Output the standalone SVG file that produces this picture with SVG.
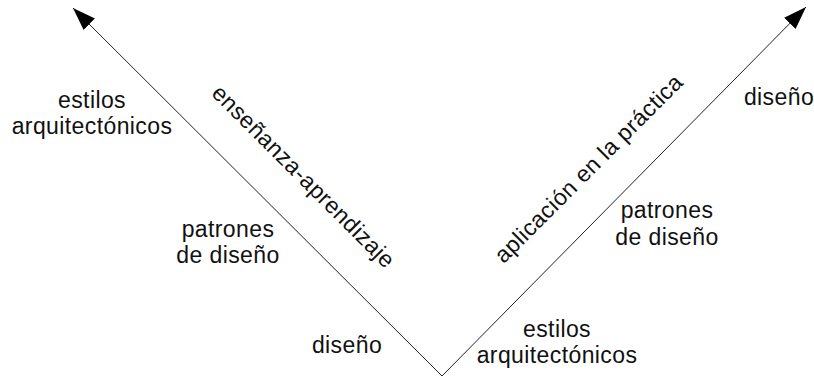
<svg xmlns="http://www.w3.org/2000/svg" width="814" height="379" viewBox="0 0 814 379">
  <style>
    .t { font-family: "Liberation Sans", Arial, sans-serif; font-size: 23px; letter-spacing: 0.4px; fill: #111; text-anchor: middle; }
    .ax { stroke: #222; stroke-width: 1; fill: none; marker-end: url(#ah); }
  </style>
  <defs>
    <marker id="ah" markerUnits="userSpaceOnUse" markerWidth="24" markerHeight="18" refX="23" refY="8" orient="auto">
      <path d="M0,0 L23,8 L0,16 Z" fill="#000"/>
    </marker>
  </defs>
  <rect width="814" height="379" fill="#fff"/>
  <g id="connectors">
    <path class="ax" d="M442,376 L73,8"/>
    <path class="ax" d="M442,376 L806,7"/>
  </g>
  <g id="label-ensenanza">
    <text class="t" transform="translate(298,182) rotate(45)">enseñanza-aprendizaje</text>
  </g>
  <g id="label-aplicacion">
    <text class="t" transform="translate(594,174) rotate(-45)">aplicación en la práctica</text>
  </g>
  <g id="left-estilos">
    <text class="t" x="92" y="108">estilos</text>
    <text class="t" x="92" y="134">arquitectónicos</text>
  </g>
  <g id="left-patrones">
    <text class="t" x="228" y="237">patrones</text>
    <text class="t" x="228" y="263">de diseño</text>
  </g>
  <g id="left-diseno">
    <text class="t" x="347" y="353">diseño</text>
  </g>
  <g id="right-estilos">
    <text class="t" x="557" y="337">estilos</text>
    <text class="t" x="557" y="363">arquitectónicos</text>
  </g>
  <g id="right-patrones">
    <text class="t" x="667" y="218">patrones</text>
    <text class="t" x="667" y="245">de diseño</text>
  </g>
  <g id="right-diseno">
    <text class="t" x="779" y="105">diseño</text>
  </g>
</svg>
